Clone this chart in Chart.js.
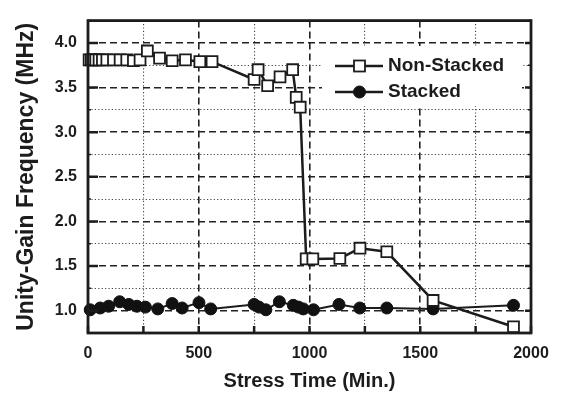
<!DOCTYPE html>
<html><head><meta charset="utf-8">
<script src="https://cdn.jsdelivr.net/npm/chart.js@4.4.1/dist/chart.umd.min.js"></script>
<style>html,body{margin:0;padding:0;background:#fff}canvas{display:block}</style>
</head><body>
<canvas id="c" width="564" height="396"></canvas>
<script>
// ---- data ----
const nonStackedX = [5, 15, 25, 35, 50, 65, 85, 115, 145, 175, 205, 235, 268, 323, 380, 440, 505, 560, 750, 768, 811, 867, 924, 940, 958, 985, 1015, 1137, 1228, 1349, 1558, 1921];
const nonStackedY = [3.81, 3.81, 3.81, 3.81, 3.81, 3.81, 3.81, 3.81, 3.81, 3.81, 3.80, 3.81, 3.91, 3.83, 3.80, 3.81, 3.79, 3.79, 3.59, 3.70, 3.52, 3.62, 3.70, 3.39, 3.28, 1.58, 1.58, 1.585, 1.70, 1.66, 1.115, 0.82];
const stackedX = [10, 55, 93, 143, 184, 221, 259, 315, 380, 425, 501, 554, 750, 772, 803, 864, 927, 950, 972, 1018, 1133, 1227, 1349, 1558, 1921];
const stackedY = [1.01, 1.03, 1.05, 1.10, 1.07, 1.05, 1.04, 1.02, 1.08, 1.03, 1.09, 1.02, 1.07, 1.04, 1.01, 1.10, 1.06, 1.04, 1.02, 1.01, 1.07, 1.03, 1.03, 1.02, 1.06];
const seriesNames = ['Non-Stacked', 'Stacked'];
const xTickLabels = ['0', '500', '1000', '1500', '2000'];
const yTickLabels = ['1.0', '1.5', '2.0', '2.5', '3.0', '3.5', '4.0'];
const xTitle = 'Stress Time (Min.)';
const yTitle = 'Unity-Gain Frequency (MHz)';

const FONT = '"Liberation Sans", Arial, Helvetica, sans-serif';
const INK = '#1c1c1c';
const toPts = (xs, ys) => xs.map((v, i) => ({x: v, y: ys[i]}));
const isMajorY = v => Math.abs(v * 2 - Math.round(v * 2)) < 1e-9;
const isMajorX = v => v % 500 === 0;

const decor = {
  id: 'decor',
  afterDatasetsDraw(chart) {
    const {ctx, chartArea: a, scales: {x, y}} = chart;
    ctx.save();
    // inward tick marks
    ctx.strokeStyle = INK;
    ctx.lineCap = 'butt';
    y.ticks.forEach(t => {
      const py = y.getPixelForValue(t.value);
      const maj = isMajorY(t.value);
      ctx.lineWidth = maj ? 2.5 : 1.5;
      ctx.beginPath();
      ctx.moveTo(a.left, py); ctx.lineTo(a.left + (maj ? 10 : 3), py);
      ctx.moveTo(a.right, py); ctx.lineTo(a.right - (maj ? 6 : 3), py);
      ctx.stroke();
    });
    x.ticks.forEach(t => {
      const px = x.getPixelForValue(t.value);
      ctx.lineWidth = 2.5;
      ctx.beginPath();
      ctx.moveTo(px, a.bottom); ctx.lineTo(px, a.bottom - 7);
      ctx.stroke();
    });
    // legend box
    ctx.fillStyle = '#fff';
    ctx.fillRect(322, 46, 200, 60);
    const rows = [{y: 66, ds: chart.data.datasets[0]}, {y: 92, ds: chart.data.datasets[1]}];
    rows.forEach(r => {
      ctx.strokeStyle = r.ds.borderColor;
      ctx.lineWidth = 2.5;
      ctx.beginPath(); ctx.moveTo(335, r.y); ctx.lineTo(383, r.y); ctx.stroke();
      ctx.lineWidth = r.ds.pointBorderWidth;
      ctx.fillStyle = r.ds.pointBackgroundColor;
      ctx.strokeStyle = r.ds.pointBorderColor;
      if (r.ds.pointStyle === 'rect') {
        ctx.fillRect(354, r.y - 5.5, 11, 11);
        ctx.strokeRect(354, r.y - 5.5, 11, 11);
      } else {
        ctx.beginPath(); ctx.arc(359.5, r.y, 6, 0, Math.PI * 2); ctx.fill(); ctx.stroke();
      }
      ctx.fillStyle = INK;
      ctx.font = 'bold 19px ' + FONT;
      ctx.textBaseline = 'middle';
      ctx.textAlign = 'left';
      ctx.fillText(r.ds.label, 388, r.y);
    });
    ctx.restore();
  },
  afterDraw(chart) {
    const {ctx, chartArea: a} = chart;
    ctx.save();
    ctx.strokeStyle = INK;
    ctx.lineWidth = 2.8;
    ctx.strokeRect(a.left, a.top, a.right - a.left, a.bottom - a.top);
    ctx.restore();
  }
};

new Chart(document.getElementById('c'), {
  type: 'scatter',
  data: {
    datasets: [
      {
        label: seriesNames[0],
        data: toPts(nonStackedX, nonStackedY),
        showLine: true,
        borderColor: INK,
        borderWidth: 2.5,
        pointStyle: 'rect',
        pointRadius: 7.7,
        pointBorderWidth: 1.8,
        pointBackgroundColor: '#ffffff',
        pointBorderColor: INK,
        clip: false
      },
      {
        label: seriesNames[1],
        data: toPts(stackedX, stackedY),
        showLine: true,
        borderColor: INK,
        borderWidth: 2,
        pointStyle: 'circle',
        pointRadius: 6,
        pointBorderWidth: 1,
        pointBackgroundColor: '#111111',
        pointBorderColor: '#111111',
        clip: false
      }
    ]
  },
  options: {
    responsive: false,
    animation: false,
    devicePixelRatio: 1,
    layout: {padding: {left: 0, top: 6, right: 33, bottom: 0}},
    plugins: {legend: {display: false}, tooltip: {enabled: false}},
    scales: {
      x: {
        type: 'linear', min: 0, max: 2000,
        afterFit: s => { s.height = 63; },
        ticks: {
          stepSize: 250, padding: 11, color: INK, maxRotation: 0, autoSkip: false,
          font: {family: FONT, size: 16, weight: 'bold'},
          callback: v => isMajorX(v) ? xTickLabels[v / 500] : ''
        },
        grid: {
          drawTicks: false,
          color: c => (c.tick && (c.tick.value === 0 || c.tick.value === 2000)) ? 'rgba(0,0,0,0)' : (c.tick && isMajorX(c.tick.value) ? '#222' : '#444'),
          lineWidth: c => (c.tick && isMajorX(c.tick.value)) ? 1.6 : 1.1
        },
        border: {display: false, dash: c => (c.tick && isMajorX(c.tick.value)) ? [7, 4] : [1.2, 2.2]},
        title: {display: true, text: xTitle, color: INK, font: {family: FONT, size: 20, weight: 'bold'}, padding: {top: 0, bottom: 3}}
      },
      y: {
        type: 'linear', min: 0.75, max: 4.25,
        afterFit: s => { s.width = 88; },
        ticks: {
          stepSize: 0.25, padding: 11, color: INK, autoSkip: false,
          font: {family: FONT, size: 16, weight: 'bold'},
          callback: v => (isMajorY(v) && v >= 1 && v <= 4) ? yTickLabels[Math.round((v - 1) * 2)] : ''
        },
        grid: {
          drawTicks: false,
          color: c => (c.tick && (c.tick.value <= 0.76 || c.tick.value >= 4.24)) ? 'rgba(0,0,0,0)' : (c.tick && isMajorY(c.tick.value) ? '#222' : '#444'),
          lineWidth: c => (c.tick && isMajorY(c.tick.value)) ? 1.6 : 1.1
        },
        border: {display: false, dash: c => (c.tick && isMajorY(c.tick.value)) ? [7, 4] : [1.2, 2.2]},
        title: {display: true, text: yTitle, color: INK, font: {family: FONT, size: 23, weight: 'bold'}, padding: {top: 13, bottom: 0}}
      }
    }
  },
  plugins: [decor]
});
</script>
</body></html>
